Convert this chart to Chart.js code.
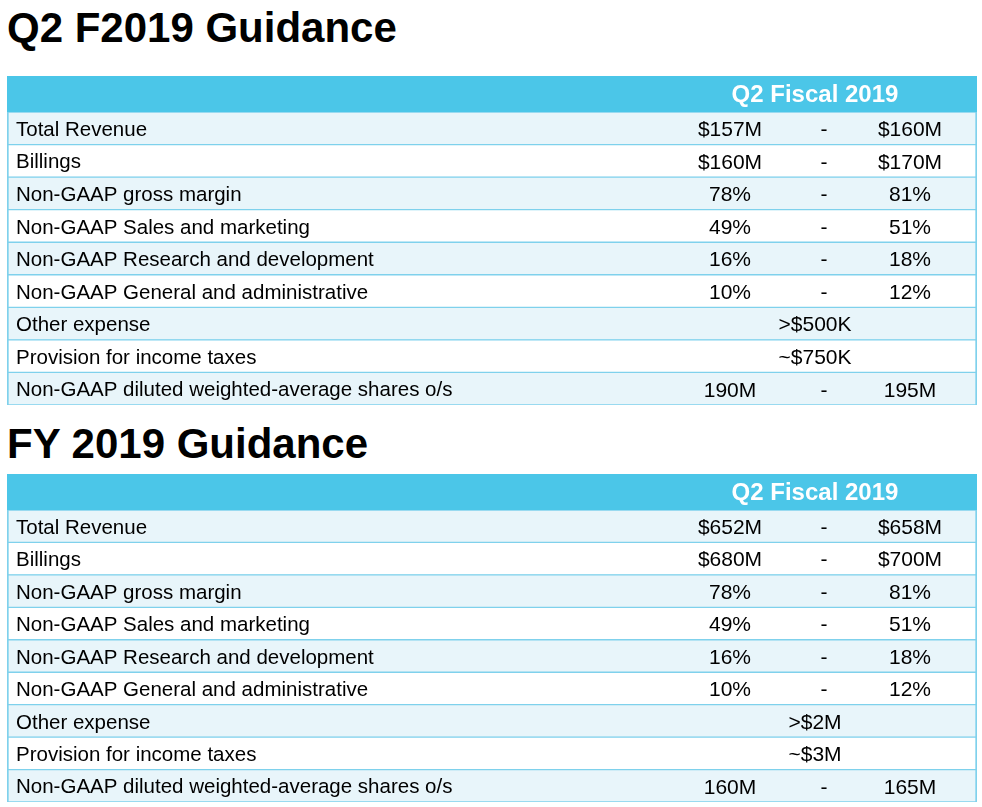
<!DOCTYPE html>
<html>
<head>
<meta charset="utf-8">
<script src="https://cdn.jsdelivr.net/npm/chart.js@4.4.1/dist/chart.umd.min.js"></script>
<style>
  html, body { margin: 0; padding: 0; background: #ffffff; width: 982px; height: 807px; overflow: hidden; }
  body { position: relative; font-family: "Liberation Sans", Arial, sans-serif; }
  .title { position: absolute; left: 7px; font-weight: bold; font-size: 42px; line-height: 42px; color: #000; white-space: nowrap; }
  canvas { position: absolute; left: 7px; }
</style>
</head>
<body>
<div class="title" id="t1" style="top:7px"></div>
<canvas id="c1" width="970" height="329" style="top:76px;width:970px;height:329px"></canvas>
<div class="title" id="t2" style="top:423px"></div>
<canvas id="c2" width="970" height="328" style="top:474px;width:970px;height:328px"></canvas>
<script>
// ---------- data ----------
const titles = ['Q2 F2019 Guidance', 'FY 2019 Guidance'];
const headers = ['Q2 Fiscal 2019', 'Q2 Fiscal 2019'];
const rowLabels = [
  'Total Revenue',
  'Billings',
  'Non-GAAP gross margin',
  'Non-GAAP Sales and marketing',
  'Non-GAAP Research and development',
  'Non-GAAP General and administrative',
  'Other expense',
  'Provision for income taxes',
  'Non-GAAP diluted weighted-average shares o/s'
];
const q2Low    = ['$157M', '$160M', '78%', '49%', '16%', '10%', '', '', '190M'];
const q2High   = ['$160M', '$170M', '81%', '51%', '18%', '12%', '', '', '195M'];
const q2Single = ['', '', '', '', '', '', '>$500K', '~$750K', ''];
const fyLow    = ['$652M', '$680M', '78%', '49%', '16%', '10%', '', '', '160M'];
const fyHigh   = ['$658M', '$700M', '81%', '51%', '18%', '12%', '', '', '165M'];
const fySingle = ['', '', '', '', '', '', '>$2M', '~$3M', ''];

// ---------- layout / style ----------
const SPAN = 970;                                  // x-scale range (table width units)
const COL = { low: 723, dash: 817, high: 903, single: 808 };
const FONT = '"Liberation Sans", Arial, sans-serif';
const C_HEAD = '#4bc6e8';
const C_LIGHT = '#e8f5fa';
const C_WHITE = '#ffffff';
const C_LINE = '#7fd1ec';
const HEADER_H = 36;

document.getElementById('t1').textContent = titles[0];
document.getElementById('t2').textContent = titles[1];

const tablePlugin = {
  id: 'tableText',
  beforeDatasetsDraw(chart) {
    const ctx = chart.ctx;
    const xs = chart.scales.x;
    ctx.save();
    ctx.fillStyle = C_HEAD;
    ctx.fillRect(0, 0, chart.width, chart.chartArea.top);
    ctx.fillStyle = '#ffffff';
    ctx.font = 'bold 24px ' + FONT;
    ctx.textAlign = 'center';
    ctx.textBaseline = 'middle';
    ctx.fillText(chart.options.plugins.tableText.header, xs.getPixelForValue(COL.single), chart.chartArea.top / 2 + 1);
    ctx.restore();
  },
  afterDatasetsDraw(chart) {
    const o = chart.options.plugins.tableText;
    const ctx = chart.ctx;
    const xs = chart.scales.x, ys = chart.scales.y;
    ctx.save();
    ctx.fillStyle = '#000000';
    ctx.font = '21px ' + FONT;
    ctx.textAlign = 'center';
    ctx.textBaseline = 'middle';
    rowLabels.forEach((_, i) => {
      const y = ys.getPixelForValue(i) + 2;
      if (o.low[i]) {
        ctx.fillText(o.low[i], xs.getPixelForValue(COL.low), y);
        ctx.fillText('-', xs.getPixelForValue(COL.dash), y);
        ctx.fillText(o.high[i], xs.getPixelForValue(COL.high), y);
      }
      if (o.single[i]) ctx.fillText(o.single[i], xs.getPixelForValue(COL.single), y);
    });
    ctx.restore();
  }
};

function makeTable(id, header, low, high, single) {
  return new Chart(document.getElementById(id), {
    type: 'bar',
    data: {
      labels: rowLabels,
      datasets: [{
        data: rowLabels.map(() => [0, SPAN]),
        backgroundColor: c => (c.dataIndex % 2 === 0 ? C_LIGHT : C_WHITE),
        borderColor: C_LINE,
        borderWidth: { top: 1, bottom: 1, left: 2, right: 2 },
        borderSkipped: false,
        barPercentage: 1,
        categoryPercentage: 1
      }]
    },
    options: {
      indexAxis: 'y',
      responsive: false,
      animation: false,
      devicePixelRatio: 1,
      events: [],
      layout: { padding: { top: HEADER_H, left: 0, right: 0, bottom: 0 } },
      scales: {
        x: { type: 'linear', min: 0, max: SPAN, display: false },
        y: {
          type: 'category',
          offset: true,
          grid: { display: false, drawTicks: false },
          border: { display: false },
          afterFit: s => { s.width = 0; s.paddingTop = 0; s.paddingBottom = 0; },
          ticks: {
            z: 1,
            mirror: true,
            padding: 9,
            labelOffset: 2,
            color: '#000000',
            font: { family: FONT, size: 20.5 },
            autoSkip: false
          }
        }
      },
      plugins: {
        legend: { display: false },
        tooltip: { enabled: false },
        tableText: { header, low, high, single }
      }
    },
    plugins: [tablePlugin]
  });
}

makeTable('c1', headers[0], q2Low, q2High, q2Single);
makeTable('c2', headers[1], fyLow, fyHigh, fySingle);
</script>
</body>
</html>
